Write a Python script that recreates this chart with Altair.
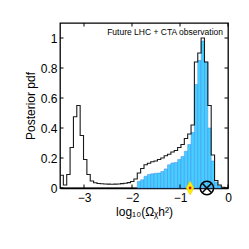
import altair as alt
import numpy as np
import pandas as pd

# histogram bins over log10(Omega h^2)
x_min, x_max, n_bins = -3.5, 0.0, 50

black_pdf = [0.085, 0.02, 0.09, 0.27, 0.475, 0.55, 0.35, 0.19, 0.09, 0.047,
             0.035, 0.03, 0.028, 0.027, 0.026, 0.025, 0.026, 0.027, 0.029, 0.032,
             0.036, 0.043, 0.06, 0.10, 0.13, 0.155, 0.165, 0.175, 0.18, 0.19,
             0.20, 0.215, 0.225, 0.24, 0.25, 0.27, 0.29, 0.33, 0.36, 0.42,
             0.84, 0.90, 1.0, 0.84, 0.55, 0.22, 0.05, 0.02, 0.005, 0.0]

blue_pdf = [0]*23 + [0.044, 0.055, 0.078, 0.09, 0.095, 0.098, 0.10, 0.11, 0.127,
                     0.155, 0.167, 0.17, 0.19, 0.21, 0.245, 0.29, 0.37,
                     0.69, 0.85, 0.98, 0.84, 0.40, 0.18, 0.04, 0.015, 0.0, 0.0]

x_ticks = [-3, -2, -1, 0]
y_ticks = [0, 0.2, 0.4, 0.6, 0.8, 1.0]

diamond_x = [-0.79]
circlex_x = [-0.44]

edges = np.linspace(x_min, x_max, n_bins + 1)
bars = pd.DataFrame({"lo": edges[:-1], "hi": edges[1:], "p": blue_pdf})
bars = bars[bars.p > 0]
step = pd.DataFrame({"x": list(edges[:-1]) + [edges[-1]], "p": black_pdf + [0.0]})

W, H = 168, 165
xs = alt.Scale(domain=[x_min, x_max], nice=False, zero=False)
ys = alt.Scale(domain=[0, 1.1], nice=False)

x_axis = alt.Axis(values=x_ticks, format="~g", tickSize=0, labelPadding=4,
                  titlePadding=3, grid=False, domainColor="black", domainWidth=1.5,
                  labelOverlap=False, labelFlush=False,
                  labelFontSize=12, titleFontSize=12, titleFontWeight="normal",
                  labelColor="black", titleColor="black")
y_axis = alt.Axis(values=y_ticks, format="~g", tickSize=0, labelPadding=3,
                  titlePadding=3, grid=False, domain=False,
                  labelOverlap=False, labelFlush=False,
                  labelFontSize=12, titleFontSize=12, titleFontWeight="normal",
                  labelColor="black", titleColor="black")
x_title = "log₁₀(Ωᵪh²)"
y_title = "Posterior pdf"


def X(f):
    return alt.X(f, scale=xs, axis=x_axis, title=x_title)


def Y(f):
    return alt.Y(f, scale=ys, axis=y_axis, title=y_title)


bar_layer = alt.Chart(bars).mark_bar(fill="#44d0ff", stroke="#4a86ee", strokeWidth=0.5).encode(
    x=X("lo:Q"), x2="hi:Q", y=Y("p:Q"), y2=alt.datum(0))

line_layer = alt.Chart(step).mark_line(color="#1a1a1a", strokeWidth=1.1,
                                       interpolate="step-after").encode(x=X("x:Q"), y=Y("p:Q"))

xt = pd.DataFrame({"v": x_ticks})
yt = pd.DataFrame({"v": y_ticks})
tick_len = 3.5
xb = alt.Chart(xt).mark_rule(color="black", strokeWidth=1).encode(
    x=X("v:Q"), y=alt.value(H), y2=alt.value(H - tick_len))
xtop = alt.Chart(xt).mark_rule(color="black", strokeWidth=1).encode(
    x=X("v:Q"), y=alt.value(0), y2=alt.value(tick_len))
yl = alt.Chart(yt).mark_rule(color="black", strokeWidth=1).encode(
    y=Y("v:Q"), x=alt.value(0), x2=alt.value(tick_len))
yr = alt.Chart(yt).mark_rule(color="black", strokeWidth=1).encode(
    y=Y("v:Q"), x=alt.value(W), x2=alt.value(W - tick_len))

dia = pd.DataFrame({"x": diamond_x, "y": [0]})
cx = pd.DataFrame({"x": circlex_x, "y": [0]})
diamond = alt.Chart(dia).mark_point(shape="M0,-1L0.55,0L0,1L-0.55,0Z", filled=True,
                                    fill="#ffee00", stroke="#e8c800", strokeWidth=0.5,
                                    size=196, opacity=1).encode(x=X("x:Q"), y=Y("y:Q"))
reddot = alt.Chart(dia).mark_point(shape="circle", filled=True, color="#e01010", size=8,
                                   opacity=1).encode(x=X("x:Q"), y=Y("y:Q"))
circ = alt.Chart(cx).mark_point(shape="circle", filled=False, stroke="black", strokeWidth=1.5,
                                size=180, opacity=1).encode(x=X("x:Q"), y=Y("y:Q"))
cross = alt.Chart(cx).mark_point(shape="M-0.7,-0.7L0.7,0.7M-0.7,0.7L0.7,-0.7", filled=False,
                                 stroke="black", strokeWidth=1.5, size=180,
                                 opacity=1).encode(x=X("x:Q"), y=Y("y:Q"))

label = alt.Chart(pd.DataFrame({"t": ["Future LHC + CTA observation"]})).mark_text(
    align="right", baseline="middle", fontSize=8.5, font="Liberation Sans", color="black").encode(
    text="t:N", x=alt.value(W - 5), y=alt.value(9))

chart = alt.layer(bar_layer, line_layer, xb, xtop, yl, yr, diamond, reddot, circ, cross, label).properties(
    width=W, height=H, autosize="none",
    padding={"left": 52, "top": 15, "right": 13, "bottom": 40},
).configure(font="Liberation Sans", background="white").configure_view(
    stroke="black", strokeWidth=1.3).configure_axis(
    labelFont="Liberation Sans", titleFont="Liberation Sans", titleFontWeight="normal")

chart.save("out.html", embed_options={"renderer": "svg", "actions": False})
